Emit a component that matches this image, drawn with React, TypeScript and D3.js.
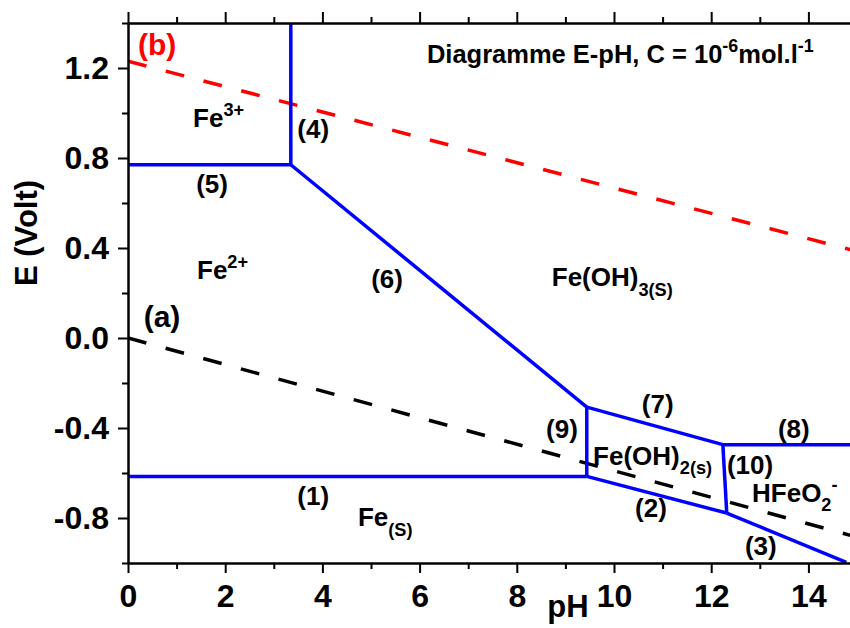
import { useEffect, useRef } from "react";
import * as d3 from "d3";

type Pt = { pH: number; E: number };

// Boundaries of the Pourbaix diagram
const boundary1: Pt[] = [{ pH: 0, E: -0.615 }, { pH: 9.44, E: -0.615 }];
const boundary2: Pt[] = [{ pH: 9.44, E: -0.615 }, { pH: 12.32, E: -0.778 }];
const boundary3: Pt[] = [{ pH: 12.32, E: -0.778 }, { pH: 14.78, E: -0.997 }];
const boundary4: Pt[] = [{ pH: 3.35, E: 0.77 }, { pH: 3.35, E: 1.4 }];
const boundary5: Pt[] = [{ pH: 0, E: 0.77 }, { pH: 3.35, E: 0.77 }];
const boundary6: Pt[] = [{ pH: 3.35, E: 0.77 }, { pH: 9.44, E: -0.307 }];
const boundary7: Pt[] = [{ pH: 9.44, E: -0.307 }, { pH: 12.24, E: -0.474 }];
const boundary8: Pt[] = [{ pH: 12.24, E: -0.474 }, { pH: 15, E: -0.474 }];
const boundary9: Pt[] = [{ pH: 9.44, E: -0.307 }, { pH: 9.44, E: -0.615 }];
const boundary10: Pt[] = [{ pH: 12.24, E: -0.474 }, { pH: 12.32, E: -0.778 }];

// water lines
const waterA: Pt[] = [{ pH: 0, E: 0 }, { pH: 15, E: -0.885 }];
const waterB: Pt[] = [{ pH: 0, E: 1.23 }, { pH: 15, E: 0.385 }];

const boundaries = [
  boundary1, boundary2, boundary3, boundary4, boundary5,
  boundary6, boundary7, boundary8, boundary9, boundary10,
];

const xMajor = [0, 2, 4, 6, 8, 10, 12, 14];
const xMinor = [1, 3, 5, 7, 9, 11, 13, 15];
const yMajor = [-0.8, -0.4, 0, 0.4, 0.8, 1.2];
const yMinor = [-1.0, -0.6, -0.2, 0.2, 0.6, 1.0, 1.4];

type Part = { t: string; pos?: "sup" | "sub" };
type Label = { parts: Part[]; pH: number; E: number; kind: string; anchor?: string };

const labels: Label[] = [
  { parts: [{ t: "(b)" }], pH: 0.6, E: 1.259, kind: "red" },
  { parts: [{ t: "(a)" }], pH: 0.7, E: 0.05, kind: "big" },
  { parts: [{ t: "Fe" }, { t: "3+", pos: "sup" }], pH: 1.34, E: 0.939, kind: "species", anchor: "start" },
  { parts: [{ t: "Fe" }, { t: "2+", pos: "sup" }], pH: 1.42, E: 0.262, kind: "species", anchor: "start" },
  { parts: [{ t: "Fe(OH)" }, { t: "3(S)", pos: "sub" }], pH: 8.72, E: 0.229, kind: "species", anchor: "start" },
  { parts: [{ t: "Fe(OH)" }, { t: "2(s)", pos: "sub" }], pH: 9.57, E: -0.563, kind: "species", anchor: "start" },
  { parts: [{ t: "HFeO" }, { t: "2", pos: "sub" }, { t: "-", pos: "sup" }], pH: 12.84, E: -0.727, kind: "species", anchor: "start" },
  { parts: [{ t: "Fe" }, { t: "(S)", pos: "sub" }], pH: 4.73, E: -0.837, kind: "species", anchor: "start" },
  { parts: [{ t: "(1)" }], pH: 3.81, E: -0.741, kind: "num" },
  { parts: [{ t: "(2)" }], pH: 10.76, E: -0.794, kind: "num" },
  { parts: [{ t: "(3)" }], pH: 13.02, E: -0.963, kind: "num" },
  { parts: [{ t: "(4)" }], pH: 3.81, E: 0.89, kind: "num" },
  { parts: [{ t: "(5)" }], pH: 1.73, E: 0.646, kind: "num" },
  { parts: [{ t: "(6)" }], pH: 5.33, E: 0.224, kind: "num" },
  { parts: [{ t: "(7)" }], pH: 10.9, E: -0.332, kind: "num" },
  { parts: [{ t: "(8)" }], pH: 13.7, E: -0.443, kind: "num" },
  { parts: [{ t: "(9)" }], pH: 8.93, E: -0.443, kind: "num" },
  { parts: [{ t: "(10)" }], pH: 12.8, E: -0.603, kind: "num" },
  {
    parts: [{ t: "Diagramme E-pH, C = 10" }, { t: "-6", pos: "sup" }, { t: "mol.l" }, { t: "-1", pos: "sup" }],
    pH: 6.15, E: 1.223, kind: "title", anchor: "start",
  },
];

const FONT = "'Liberation Sans', Arial, Helvetica, sans-serif";
const BLUE = "#0000ff";
const RED = "#ff0000";

const sizes: Record<string, number> = { red: 30, big: 30, species: 26, num: 26, title: 25.5 };

export default function App() {
  const svgRef = useRef<SVGSVGElement>(null);

  useEffect(() => {
    if (!svgRef.current) return;
    const svg = d3.select(svgRef.current);
    svg.selectAll("*").remove();

    const x = d3.scaleLinear().domain([0, 15]).range([128, 857]);
    const y = d3.scaleLinear().domain([-1, 1.4]).range([563, 23]);

    svg.append("defs")
      .append("clipPath")
      .attr("id", "plot-clip")
      .append("rect")
      .attr("x", 128)
      .attr("y", 23)
      .attr("width", 729)
      .attr("height", 540);

    const plot = svg.append("g").attr("clip-path", "url(#plot-clip)");

    const line = d3
      .line<Pt>()
      .x((d) => x(d.pH))
      .y((d) => y(d.E));

    // water stability lines
    plot.append("path")
      .datum(waterA)
      .attr("fill", "none")
      .attr("stroke", "#000")
      .attr("stroke-width", 3.5)
      .attr("stroke-dasharray", "19,20")
      .attr("d", line);

    plot.append("path")
      .datum(waterB)
      .attr("fill", "none")
      .attr("stroke", RED)
      .attr("stroke-width", 3.5)
      .attr("stroke-dasharray", "19,20")
      .attr("d", line);

    // domain boundaries
    plot.selectAll("path.boundary")
      .data(boundaries)
      .enter()
      .append("path")
      .attr("class", "boundary")
      .attr("fill", "none")
      .attr("stroke", BLUE)
      .attr("stroke-width", 3.5)
      .attr("d", line);

    // Axes
    const styleAxis = (g: d3.Selection<SVGGElement, unknown, null, undefined>) => {
      g.selectAll(".domain").attr("stroke", "#000").attr("stroke-width", 2);
      g.selectAll(".tick line").attr("stroke", "#000").attr("stroke-width", 2);
      g.selectAll(".tick text")
        .attr("fill", "#000")
        .attr("font-family", FONT)
        .attr("font-weight", "bold")
        .attr("font-size", 32);
    };

    const bottom = svg.append("g").attr("transform", `translate(0,${y(-1)})`);
    bottom.call(d3.axisBottom(x).tickValues(xMinor).tickSize(6).tickSizeOuter(0).tickFormat(() => ""));
    bottom.append("g").call(
      d3.axisBottom(x).tickValues(xMajor).tickSize(10).tickSizeOuter(0).tickPadding(11).tickFormat((d) => String(d))
    );
    styleAxis(bottom);

    const top = svg.append("g").attr("transform", `translate(0,${y(1.4)})`);
    top.call(d3.axisTop(x).tickValues(xMinor).tickSize(6).tickSizeOuter(0).tickFormat(() => ""));
    top.append("g").call(d3.axisTop(x).tickValues(xMajor).tickSize(11).tickSizeOuter(0).tickFormat(() => ""));
    styleAxis(top);

    const left = svg.append("g").attr("transform", `translate(${x(0)},0)`);
    left.call(d3.axisLeft(y).tickValues(yMinor).tickSize(6).tickSizeOuter(0).tickFormat(() => ""));
    left.append("g").call(
      d3.axisLeft(y).tickValues(yMajor).tickSize(10).tickSizeOuter(0).tickPadding(9)
        .tickFormat((d) => (d as number).toFixed(1))
    );
    styleAxis(left);

    // Axis titles
    svg.append("text")
      .attr("x", 568)
      .attr("y", 617)
      .attr("text-anchor", "middle")
      .attr("font-family", FONT)
      .attr("font-weight", "bold")
      .attr("font-size", 31)
      .text("pH");

    svg.append("text")
      .attr("transform", `translate(37,${(y(1.4) + y(-1)) / 2 - 60}) rotate(-90)`)
      .attr("text-anchor", "middle")
      .attr("font-family", FONT)
      .attr("font-weight", "bold")
      .attr("font-size", 31)
      .text("E (Volt)");

    // Labels
    labels.forEach((lab) => {
      const size = sizes[lab.kind];
      const txt = svg.append("text")
        .attr("x", x(lab.pH))
        .attr("y", y(lab.E))
        .attr("text-anchor", lab.anchor ?? "middle")
        .attr("font-family", FONT)
        .attr("font-weight", "bold")
        .attr("font-size", size)
        .attr("fill", lab.kind === "red" ? RED : "#000");
      let prev = 0;
      lab.parts.forEach((p) => {
        const shift = p.pos === "sup" ? -size * 0.42 : p.pos === "sub" ? size * 0.36 : 0;
        txt.append("tspan")
          .attr("dy", shift - prev)
          .attr("font-size", p.pos ? size * 0.7 : size)
          .text(p.t);
        prev = shift;
      });
    });
  }, []);

  return (
    <svg
      ref={svgRef}
      width={850}
      height={628}
      style={{ position: "absolute", left: 0, top: 0, background: "#fff" }}
    />
  );
}
